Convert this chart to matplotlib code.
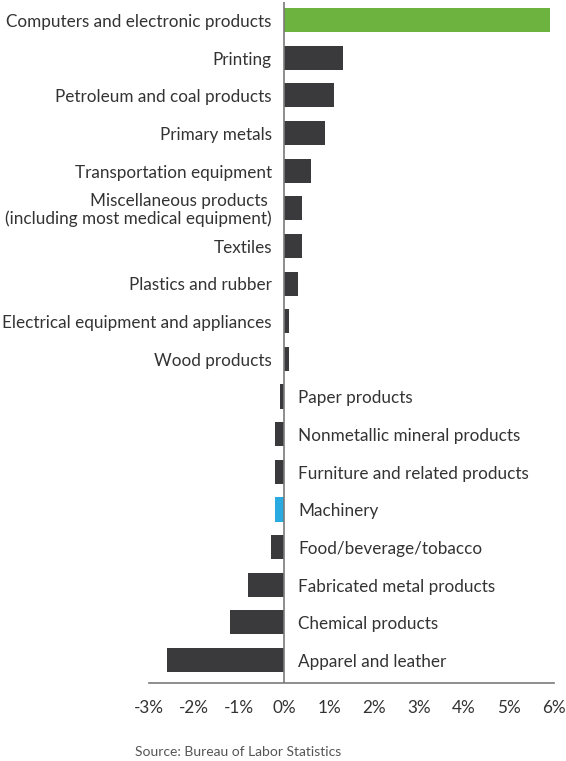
import matplotlib
matplotlib.use("Agg")
import matplotlib.pyplot as plt

categories = [
    "Computers and electronic products",
    "Printing",
    "Petroleum and coal products",
    "Primary metals",
    "Transportation equipment",
    "Miscellaneous products \n(including most medical equipment)",
    "Textiles",
    "Plastics and rubber",
    "Electrical equipment and appliances",
    "Wood products",
    "Paper products",
    "Nonmetallic mineral products",
    "Furniture and related products",
    "Machinery",
    "Food/beverage/tobacco",
    "Fabricated metal products",
    "Chemical products",
    "Apparel and leather",
]
values = [5.9, 1.3, 1.1, 0.9, 0.6, 0.4, 0.4, 0.3, 0.1, 0.1,
          -0.1, -0.2, -0.2, -0.2, -0.3, -0.8, -1.2, -2.6]
highlight = {"Computers and electronic products": "#6db33f", "Machinery": "#29abe2"}
tick_vals = [-3, -2, -1, 0, 1, 2, 3, 4, 5, 6]
tick_labels = ["-3%", "-2%", "-1%", "0%", "1%", "2%", "3%", "4%", "5%", "6%"]
source = "Source: Bureau of Labor Statistics"

plt.rcParams['font.family'] = ['Lato', 'DejaVu Sans']
W, H = 566, 761
fig = plt.figure(figsize=(W / 100, H / 100), dpi=100)
ax = fig.add_axes([149 / W, 1 - 683 / H, (554 - 149) / W, (683 - 2) / H])

dark = "#3a3a3c"
txt = "#333333"
colors = [highlight.get(c, dark) for c in categories]
ypos = list(range(len(categories)))
ax.barh(ypos, values, height=0.64, color=colors, zorder=2)

ax.set_xlim(-3, 6)
ax.set_ylim(len(categories) - 1 + 0.61, -0.48)
ax.set_xticks(tick_vals)
ax.set_xticklabels(tick_labels, fontsize=12.3, color=txt)
ax.tick_params(axis='x', length=0, pad=12)
ax.set_yticks([])
for s in ["top", "right", "left"]:
    ax.spines[s].set_visible(False)
ax.spines["bottom"].set_color("#7a7a7a")
ax.spines["bottom"].set_linewidth(1.2)
ax.axvline(0, color="#7a7a7a", lw=1.2, zorder=3)

for y, c, v in zip(ypos, categories, values):
    if v >= 0:
        ax.text(-0.27, y + 0.05, c, ha="right", va="center", fontsize=12.3, color=txt,
                linespacing=1.15)
    else:
        ax.text(0.31, y + 0.05, c, ha="left", va="center", fontsize=12.3, color=txt)

fig.text(135 / W, 1 - 752 / H, source, ha="left", va="center", fontsize=10, color="#555555")

fig.savefig("out.png", dpi=100, facecolor="white")
